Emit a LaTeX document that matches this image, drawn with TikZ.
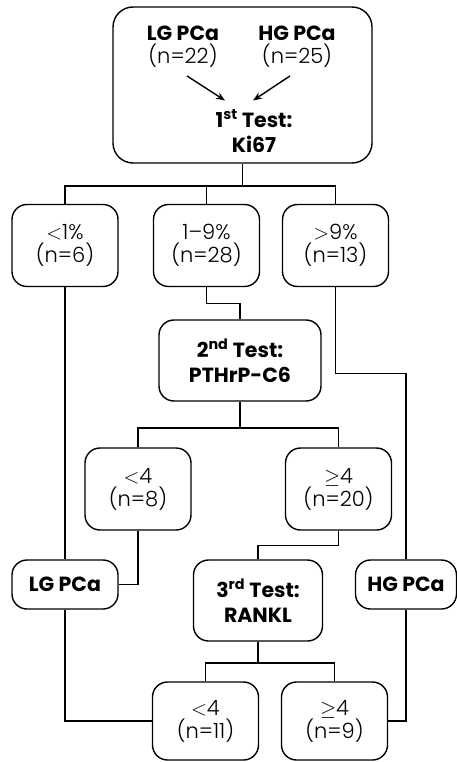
\documentclass[tikz,border=0pt]{standalone}
\usepackage{fontspec}
\setmainfont{Poppins Light}[BoldFont=Poppins Bold]
\usepackage{tikz}
\usetikzlibrary{positioning, arrows.meta, calc}

\tikzset{
  box/.style={draw, line width=1.4pt, rounded corners=15pt, align=center,
              inner sep=0pt, minimum width=106pt, minimum height=82pt},
  lbl/.style={align=center, inner sep=0pt},
  link/.style={line width=1.4pt},
  title/.style={font=\fontsize{20.5}{25}\selectfont\bfseries},
}

\begin{document}
\begin{tikzpicture}[x=1pt, y=-1pt, font=\fontsize{21}{23}\selectfont]
    \useasboundingbox (0,0) rectangle (456,762);

    % start box with both groups
    \node[box, rounded corners=20pt, minimum width=259pt, minimum height=156pt] (start) at (242.5,85) {};
    \node[lbl] (lgin) at (183,47) {{\fontsize{20.5}{23}\selectfont\bfseries LG PCa}\\(n=22)};
    \node[lbl] (hgin) at (297,47) {{\fontsize{20.5}{23}\selectfont\bfseries HG PCa}\\(n=25)};
    \node[lbl, title] (test1) at (254,131) {1\textsuperscript{st} Test:\\Ki67};
    \draw[link, -{Stealth[length=9pt, width=7pt]}] ([shift={(4pt,-8pt)}]lgin.south) -- ([shift={(-29pt,9pt)}]test1.north);
    \draw[link, -{Stealth[length=9pt, width=7pt]}] ([shift={(-7pt,-8pt)}]hgin.south) -- ([shift={(-1pt,9pt)}]test1.north);

    % Ki67 groups
    \node[box] (low1) at (65,245.5) {$<$1\%\\(n=6)};
    \node[box] (mid1) at (206.5,245.5) {1--9\%\\(n=28)};
    \node[box] (high1) at (335.5,245.5) {$>$9\%\\(n=13)};

    \node[box, title, minimum width=162pt, minimum height=81pt] (test2) at (240,360.5) {2\textsuperscript{nd} Test:\\PTHrP-C6};

    \node[box] (low2) at (138,489) {$<$4\\(n=8)};
    \node[box] (high2) at (338.5,489) {$\geq$4\\(n=20)};

    \node[box, title, minimum height=49pt] (lgout) at (65,584.5) {LG PCa};
    \node[box, title, minimum width=129pt, minimum height=81pt] (test3) at (258,600.5) {3\textsuperscript{rd} Test:\\RANKL};
    \node[box, title, minimum width=101pt, minimum height=49pt] (hgout) at (406,584.5) {HG PCa};

    \node[box, minimum height=78pt] (low3) at (205.5,721) {$<$4\\(n=11)};
    \node[box, minimum height=78pt] (high3) at (334.5,721) {$\geq$4\\(n=9)};

    % connectors
    \coordinate (j1) at (start.south |- 0,186);
    \draw[link] (start.south) -- (j1);
    \draw[link] (low1.north) |- (j1) -| (high1.north);
    \draw[link] (mid1.north) -- (mid1.north |- j1);
    \draw[link] (mid1.south) |- ([yshift=16pt]test2.north) -- (test2.north);
    \draw[link] (low1.south) -- (lgout.north);
    \draw[link] (high1.south) |- ([yshift=186pt]hgout.north) -- (hgout.north);

    \coordinate (j2) at (test2.south |- 0,428);
    \draw[link] (test2.south) -- (j2);
    \draw[link] (low2.north) |- (j2) -| (high2.north);
    \draw[link] (low2.south) |- (lgout.east);
    \draw[link] (high2.south) |- ([yshift=14pt]test3.north) -- (test3.north);

    \coordinate (j3) at (test3.south |- 0,663);
    \draw[link] (test3.south) -- (j3);
    \draw[link] (low3.north) |- (j3) -| (high3.north);
    \draw[link] (lgout.south) |- (low3.west);
    \draw[link] (hgout.south) |- (high3.east);
\end{tikzpicture}
\end{document}
